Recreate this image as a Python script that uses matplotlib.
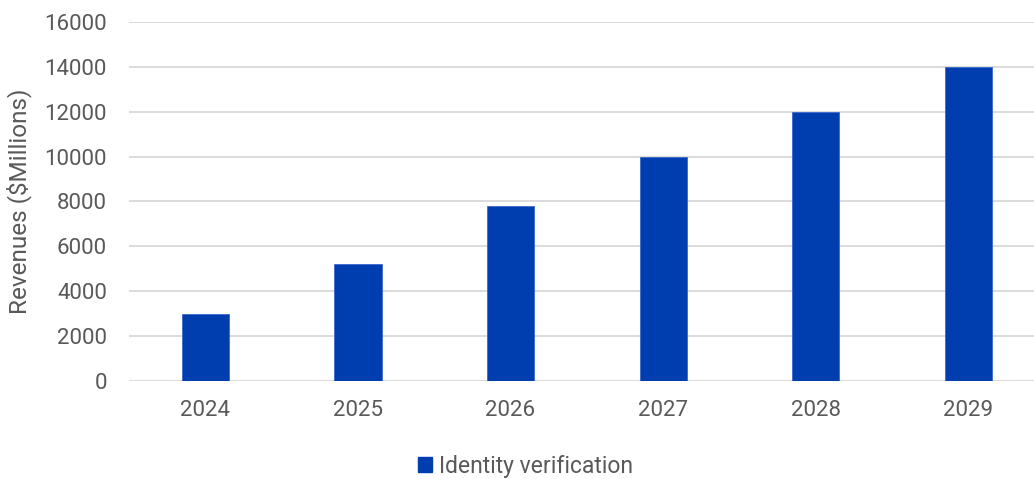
import matplotlib
matplotlib.use("Agg")
import matplotlib.pyplot as plt
import matplotlib.patches as mpatches

years = ["2024", "2025", "2026", "2027", "2028", "2029"]
revenues = [3000, 5200, 7800, 10000, 12000, 14000]
series_name = "Identity verification"

plt.rcParams['font.family'] = ['Roboto', 'DejaVu Sans']
text_col = '#595959'
bar_col = '#003DAE'

fig = plt.figure(figsize=(10.34, 4.79), dpi=100)
ax = fig.add_axes([0.1248, 0.2046, 0.8752, 0.7495])

x = list(range(len(years)))
ax.bar(x, revenues, width=0.31, color=bar_col, edgecolor='#3a68d0', linewidth=0.6, zorder=3)

ax.set_xlim(-0.5, 5.43)
ax.set_ylim(0, 16000)
ax.set_yticks(range(0, 16001, 2000))
ax.set_xticks(x)
ax.set_xticklabels(years)

ax.grid(axis='y', color='#d9d9d9', linewidth=1.3, zorder=0)
for s in ax.spines.values():
    s.set_visible(False)
ax.tick_params(axis='both', length=0, labelsize=16, labelcolor=text_col)
ax.tick_params(axis='x', pad=14)
ax.tick_params(axis='y', pad=16)

ax.set_ylabel("Revenues ($Millions)", fontsize=17.5, color=text_col)
ax.yaxis.set_label_coords(-0.107, 0.5)

handle = mpatches.Patch(color=bar_col, label=series_name)
fig.legend(handles=[handle], loc='center', bbox_to_anchor=(0.508, 0.027), frameon=False,
           fontsize=16.5, labelcolor=text_col, handlelength=0.6, handleheight=0.6, handletextpad=0.3)

fig.savefig("out.png", dpi=100)
